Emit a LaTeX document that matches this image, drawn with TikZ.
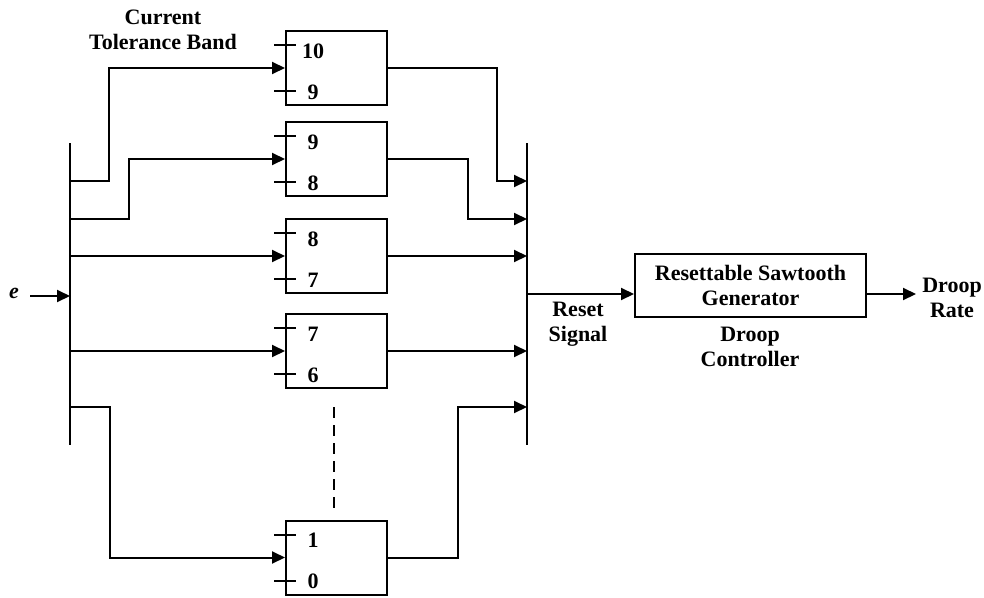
\documentclass[tikz,border=0pt]{standalone}
\usepackage{fontspec}
\setmainfont{Liberation Serif}
\usetikzlibrary{arrows.meta,calc}
\begin{document}
\begin{tikzpicture}[x=1pt,y=-1pt, line width=2pt,
  every node/.style={font=\fontsize{22}{25}\selectfont\bfseries},
  blk/.style={draw, minimum width=101pt, minimum height=74pt, inner sep=0pt},
  arr/.style={-{Triangle[length=13pt,width=12pt]}},
  lbl/.style={align=center, inner sep=0pt},
  dig/.style={inner sep=0pt}]
\useasboundingbox (0,0) rectangle (984,597);

% boxes
\node[blk] (b1) at (336.5,68) {};
\node[blk] (b2) at (336.5,159) {};
\node[blk] (b3) at (336.5,256) {};
\node[blk] (b4) at (336.5,351) {};
\node[blk] (b5) at (336.5,557.5) {};
\node[draw, minimum width=231pt, minimum height=63pt, align=center, inner sep=0pt] (saw) at (750.5,285.5)
  {Resettable Sawtooth\\Generator};

\foreach \n/\u/\l in {b1/10/9, b2/9/8, b3/8/7, b4/7/6, b5/1/0} {
  \draw ($(\n.north west)+(-11,15)$) -- ++(22,0);
  \draw ($(\n.south west)+(-11,-15)$) -- ++(22,0);
  \node[dig] (\n-up) at ($(\n.north west)+(28,21)$) {\u};
  \node[dig] (\n-lo) at ($(\n.south west)+(28,-14)$) {\l};
}

% buses
\coordinate (Lt) at (70,143);
\coordinate (Lb) at (70,445);
\coordinate (Rt) at (527,143);
\coordinate (Rb) at (527,445);
\draw (Lt) -- (Lb);
\draw (Rt) -- (Rb);

\coordinate (L1) at (70,181);
\coordinate (L2) at (70,219);
\coordinate (L3) at (70,256);
\coordinate (L4) at (70,351);
\coordinate (L5) at (70,407);
\coordinate (R1) at (527,181);
\coordinate (R2) at (527,219);
\coordinate (R3) at (527,256);
\coordinate (R4) at (527,351);
\coordinate (R5) at (527,407);
\coordinate (Rs) at (527,294);

% input e
\node[inner sep=0pt] (e) at (14,293) {\textit{e}};
\coordinate (ein) at (30,296);
\draw[arr] (ein) -- (ein -| Lt);

% inputs to boxes
\draw[arr] (L1) -- (109,181) -- (109,68) -- (b1.west);
\draw[arr] (L2) -- (129,219) -- (129,159) -- (b2.west);
\draw[arr] (L3) -- (b3.west);
\draw[arr] (L4) -- (b4.west);
\draw[arr] (L5) -- (110,407) -- (110,557.5) -- (b5.west);

% outputs to right bus
\draw[arr] (b1.east) -- (497,68) -- (497,181) -- (R1);
\draw[arr] (b2.east) -- (468,159) -- (468,219) -- (R2);
\draw[arr] (b3.east) -- (R3);
\draw[arr] (b4.east) -- (R4);
\draw[arr] (b5.east) -- (458,557.5) -- (458,407) -- (R5);

% dashed continuation
\coordinate (d1) at (334,407);
\coordinate (d2) at (334,512);
\draw[dash pattern=on 11pt off 7pt] (d1) -- (d2);

% reset signal and output
\draw[arr] (Rs) -- (Rs -| saw.west);
\coordinate (out) at (916,294);
\draw[arr] (Rs -| saw.east) -- (out);

% labels
\node[lbl] (ctb) at (163,29.5) {Current\\Tolerance Band};
\node[lbl] (rst) at (578,324) {Reset\\Signal};
\node[lbl] (dc) at (750,347) {Droop\\Controller};
\node[lbl] (dr) at (952,298) {Droop\\Rate};
\end{tikzpicture}
\end{document}
